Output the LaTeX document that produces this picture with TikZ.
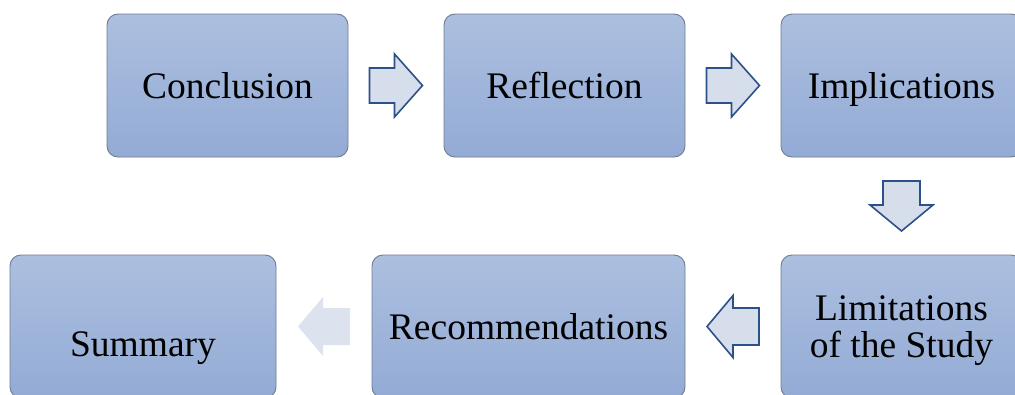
\documentclass[tikz,border=0pt]{standalone}
\usepackage{fontspec}
\setmainfont{Liberation Serif}
\usetikzlibrary{calc}
\definecolor{boxtop}{RGB}{172,191,223}
\definecolor{boxbot}{RGB}{147,171,213}
\definecolor{boxline}{RGB}{110,124,146}
\definecolor{arrowfill}{RGB}{214,222,236}
\definecolor{arrowline}{RGB}{44,80,136}
\definecolor{fadedfill}{RGB}{220,227,239}
\begin{document}
\begin{tikzpicture}[x=1pt,y=-1pt,
  stepbox/.style={draw=boxline, line width=0.9pt, rounded corners=11pt,
    top color=boxtop, bottom color=boxbot, inner sep=0pt,
    minimum height=143pt, align=center,
    font=\fontsize{37.5}{37}\selectfont},
  steptext/.style={inner sep=0pt, align=center, font=\fontsize{37.5}{37}\selectfont},
  oneline/.style={text height=25.5pt, text depth=0.5pt},
  flowarrow/.style={fill=arrowfill, draw=arrowline, line width=1.6pt, line join=miter},
  fadedarrow/.style={fill=fadedfill, draw=none}]
\useasboundingbox (0,0) rectangle (1015,394);
\clip (0,0) rectangle (1015,394);

% top row
\node[stepbox, oneline, minimum width=241pt] (conc) at (227.5,85.5) {Conclusion};
\node[stepbox, oneline, minimum width=241pt] (refl) at (564.5,85.5) {Reflection};
\node[stepbox, oneline, minimum width=241pt] (impl) at (901.5,85.5) {Implications};
% bottom row
\node[stepbox, minimum width=241pt] (lim) at (901.5,326.5) {};
\node[steptext] (limtext) at ($(lim.center)+(0,4)$) {Limitations\\of the Study};
\node[stepbox, oneline, minimum width=313pt] (rec) at (528.5,326.5) {Recommendations};
\node[stepbox, minimum width=266pt] (summ) at (143,326.5) {};
\node[steptext, oneline] (summtext) at ($(summ.center)+(0,17)$) {Summary};

% block arrows between the steps
\coordinate (m1) at ($(conc.east)!0.5!(refl.west)$);
\coordinate (m2) at ($(refl.east)!0.5!(impl.west)$);
\coordinate (m3) at ($(impl.south)!0.5!(lim.north)$);
\coordinate (m4) at ($(rec.east)!0.5!(lim.west)$);
\coordinate (m5) at ($(summ.east)!0.5!(rec.west)$);

\def\blockarrow{(-26.5,-17.5) -- (-1.5,-17.5) -- (-1.5,-31.5) -- (26.5,0)
  -- (-1.5,31.5) -- (-1.5,17.5) -- (-26.5,17.5) -- cycle}
\draw[flowarrow, shift={(m1)}] \blockarrow;
\draw[flowarrow, shift={(m2)}] \blockarrow;
\draw[flowarrow, shift={(m3)}, rotate=-90] (-25,-18.5) -- (-1,-18.5) -- (-1,-31.5) -- (25,0)
  -- (-1,31.5) -- (-1,18.5) -- (-25,18.5) -- cycle;
\draw[flowarrow, shift={(m4)}, rotate=180] (-26,-18.5) -- (0,-18.5) -- (0,-31) -- (26,0)
  -- (0,31) -- (0,18.5) -- (-26,18.5) -- cycle;
\fill[fadedarrow, shift={(m5)}, rotate=180] (-26,-18.5) -- (1,-18.5) -- (1,-29.5) -- (26,0)
  -- (1,29.5) -- (1,18.5) -- (-26,18.5) -- cycle;
\end{tikzpicture}
\end{document}
